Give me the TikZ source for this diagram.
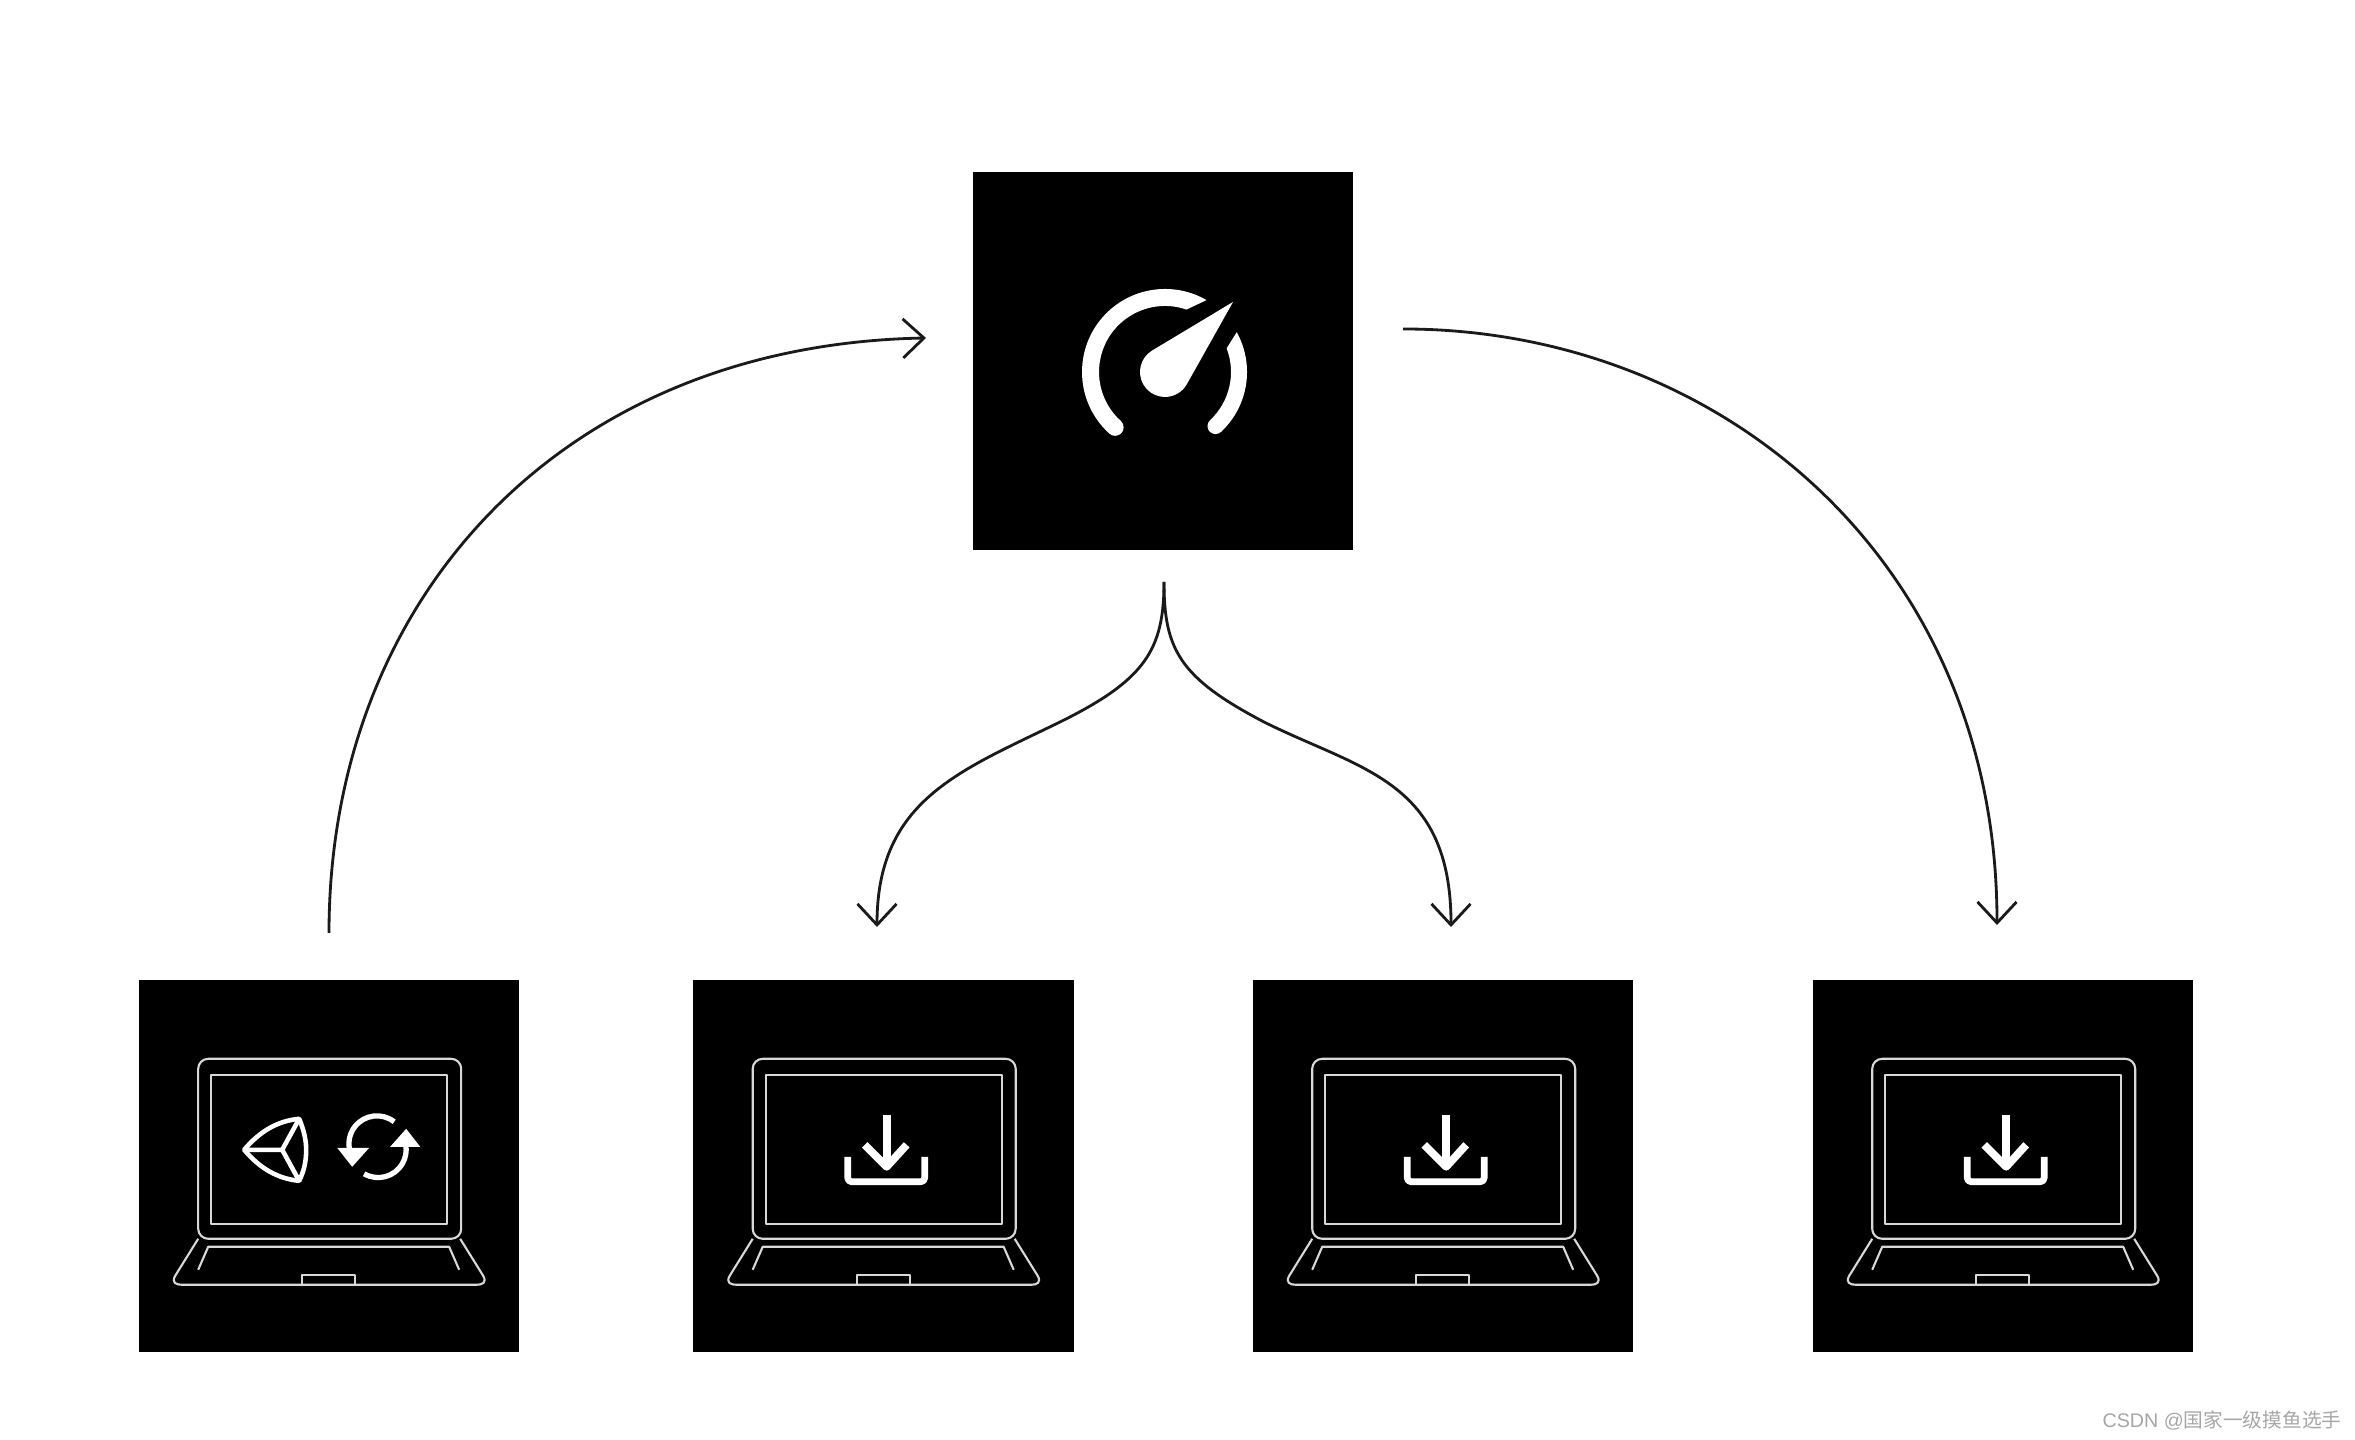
\documentclass[tikz,border=0pt]{standalone}
\usepackage{fontspec}
\setmainfont{Liberation Sans}
\newfontfamily\cjkfont{Noto Sans CJK SC}
\usetikzlibrary{arrows.meta}
\definecolor{inkcolor}{HTML}{1A1A1A}
\definecolor{wirecolor}{HTML}{D8D8D8}
\tikzset{
  icon box/.style={fill=black,draw=none,inner sep=0pt,minimum width=3.8cm,minimum height=3.72cm},
  flow/.style={inkcolor,line width=.8pt},
  flow arrow/.style={flow,-{Straight Barb[length=2.1mm,width=3.9mm,line width=.8pt]}},
  icon wire/.style={wirecolor,line width=.6pt,line join=round},
  icon line/.style={white,line width=1.9pt,line join=round},
  laptop/.pic={
    \draw[icon wire,rounded corners=.1cm] (60,114)--(60,294)--(323,294)--(323,114)--cycle;
    \draw[icon wire] (73,129) rectangle (309,278);
    \draw[icon wire] (60,114)--(37,77) .. controls (33,70) and (38,68) .. (44,68)--(338,68) .. controls (344,68) and (349,70) .. (345,77)--(322,114);
    \draw[icon wire] (60,83)--(70,106)--(311,106)--(321,83);
    \draw[icon wire] (164,68)--(164,78)--(217,78)--(217,68);
  },
  download/.pic={
    \draw[icon line,line width=2.2pt] (194,238)--(194,186);
    \draw[icon line,line width=2.2pt] (172,208)--(194,186)--(214,208);
    \draw[icon line,rounded corners=.04cm] (155,196)--(155,171)--(232,171)--(232,196);
  }
}
\begin{document}
\begin{tikzpicture}[x=.01cm,y=.01cm]
  \useasboundingbox (0,0) rectangle (2355,1440);
  \node[icon box,minimum height=3.78cm] (perf) at (1163,1079) {};
  \node[icon box] (sync) at (329,274) {};
  \node[icon box] (dla) at (883.5,274) {};
  \node[icon box] (dlb) at (1443,274) {};
  \node[icon box] (dlc) at (2003,274) {};
  \foreach \target in {sync,dla,dlb,dlc}{\pic at (\target.south west) {laptop};}
  \foreach \target in {dla,dlb,dlc}{\pic at (\target.south west) {download};}
  \begin{scope}[shift={(sync.south west)}]
    \draw[white,line width=1.3pt,line join=round] (106,203) .. controls (122,222) and (140,232) .. (161,234) .. controls (166,222) and (168,212) .. (168,203) .. controls (168,192) and (166,182) .. (161,172) .. controls (140,174) and (122,184) .. (106,203)--cycle;
    \draw[white,line width=1.3pt,line join=round] (106,203)--(144,203)--(161,234) (144,203)--(161,172);
    \draw[icon line,line width=1.5pt] (256,231) arc[start angle=52,end angle=190,radius=28];
    \fill[white] (199,205)--(231,205)--(214,186)--cycle;
    \draw[icon line,line width=1.5pt] (226,179) arc[start angle=240,end angle=370,radius=28];
    \fill[white] (252,206)--(282,206)--(268,224)--cycle;
  \end{scope}
  \begin{scope}[shift={(1165,1068)}]
    \fill[white] (228:83) arc[start angle=228,end angle=60,radius=83]--(71:66) arc[start angle=71,end angle=228,radius=66]--cycle;
    \fill[white] (228:74.5) circle[radius=8.5];
    \fill[white] (29:82) arc[start angle=29,end angle=-47,radius=82]--(-47:66) arc[start angle=-47,end angle=21,radius=66]--cycle;
    \fill[white] (-47:74) circle[radius=8];
    \fill[white] (68,70)--(121:25) arc[start angle=121,end angle=330.6,radius=25]--cycle;
  \end{scope}
  \coordinate (synctail) at (329,507);
  \coordinate (perfin) at (926,1102);
  \coordinate (perfout) at (1403,1111);
  \coordinate (dlctip) at (1997,515);
  \coordinate (splittail) at (1164,858);
  \coordinate (dlatip) at (877,513);
  \coordinate (dlbtip) at (1451,513);
  \draw[flow arrow] (synctail) .. controls (329,840) and (560,1095) .. (perfin);
  \draw[flow arrow] (perfout) .. controls (1720,1111) and (1997,880) .. (dlctip);
  \draw[flow arrow] (splittail) .. controls (1164,790) and (1145,760) .. (1060,718) .. controls (960,669) and (877,640) .. (dlatip);
  \draw[flow arrow] (splittail) .. controls (1164,790) and (1180,762) .. (1264,718) .. controls (1360,670) and (1451,660) .. (dlbtip);
  \node[text=gray!70,font=\fontsize{5.6pt}{7pt}\selectfont] (watermark) at (2222,19) {CSDN @{\cjkfont 国家一级摸鱼选手}};
\end{tikzpicture}
\end{document}
